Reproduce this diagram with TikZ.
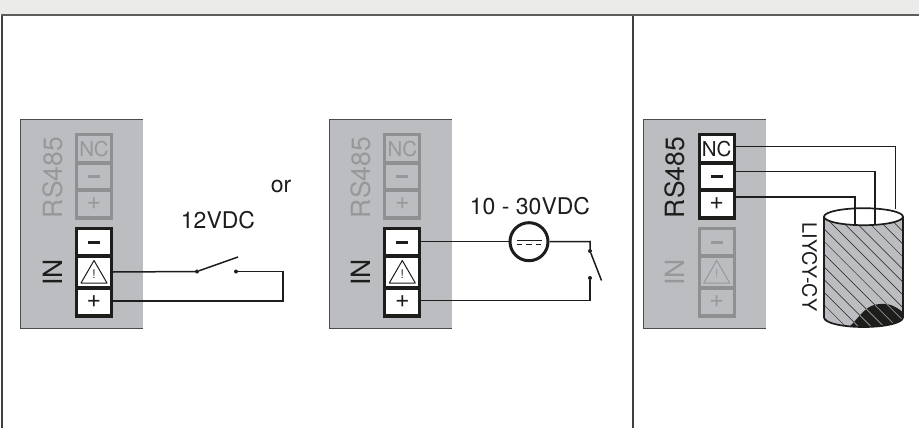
\documentclass[tikz,border=0pt]{standalone}
\usepackage{fontspec}
\usetikzlibrary{shapes.geometric}
\setmainfont{TeX Gyre Heros}
\definecolor{panelgray}{HTML}{BCBDC0}
\definecolor{dimline}{HTML}{8F9092}
\definecolor{dimtext}{HTML}{97989A}
\definecolor{inkc}{HTML}{1D1D1B}
\definecolor{bandc}{HTML}{EBECEA}
\definecolor{topline}{HTML}{5C5C5C}
\tikzset{
  cellon/.style={draw=inkc,line width=3.3pt,fill=white,text=inkc,minimum width=35pt,inner sep=0pt,font=\fontsize{20.5}{20.5}\selectfont},
  celloff/.style={draw=dimline,line width=3.3pt,fill=panelgray,text=dimtext,minimum width=35pt,inner sep=0pt,font=\fontsize{20.5}{20.5}\selectfont},
  sign/.style={font=\fontsize{25}{25}\selectfont},
  wire/.style={draw=inkc,line width=1.5pt},
  frameline/.style={draw=black!75,line width=1.3pt},
  panel/.style={fill=panelgray,draw=none},
  biglabel/.style={rotate=90,inner sep=0pt,font=\fontsize{26.5}{26.5}\selectfont},
  caption/.style={inner sep=0pt,text=inkc,font=\fontsize{23}{23}\selectfont},
  contact/.style={circle,fill=inkc,draw=none,inner sep=0pt,minimum size=4pt},
}
\newcommand{\termset}[7]{%
  % #1 prefix, #2 centre x, #3 style of RS485 cells, #4 style of IN cells,
  % #5 colour of the warning sign, #6 colour of the RS485 minus, #7 colour of the IN minus
  \node[#3,minimum height=28.5pt] (#1nc) at (#2,148.7) {NC};
  \node[#3,sign,minimum height=27pt] (#1rm) at (#2,176.5) {};
  \node[#3,sign,minimum height=28pt] (#1rp) at (#2,204) {+};
  \node[#4,sign,minimum height=27.5pt] (#1im) at (#2,242.2) {};
  \node[#4,minimum height=32pt] (#1iw) at (#2,272) {};
  \node[#4,sign,minimum height=28pt] (#1ip) at (#2,302) {+};
  \fill[#6] ([xshift=-6pt,yshift=-1.5pt]#1rm.center) rectangle ([xshift=6pt,yshift=1.5pt]#1rm.center);
  \fill[#7] ([xshift=-6pt,yshift=-1.5pt]#1im.center) rectangle ([xshift=6pt,yshift=1.5pt]#1im.center);
  \draw[line width=1pt,line join=round,draw=#5] ([xshift=-13pt,yshift=-11pt]#1iw.center) -- ([yshift=11.5pt]#1iw.center) -- ([xshift=13pt,yshift=-11pt]#1iw.center) -- cycle;
  \node[inner sep=0pt,text=#5,font=\fontsize{12}{12}\selectfont] (#1ex) at ([yshift=-2.5pt]#1iw.center) {!};
}
\begin{document}
\begin{tikzpicture}[x=1pt,y=-1pt]
\useasboundingbox (0,0) rectangle (919,428);
\fill[white] (0,0) rectangle (919,428);
\fill[bandc] (0,0) rectangle (919,14.5);
% panels
\node[panel,minimum width=122pt,minimum height=208pt,inner sep=0pt] (p1) at (82,224) {};
\node[panel,minimum width=122pt,minimum height=208pt,inner sep=0pt] (p2) at (391,224) {};
\node[panel,minimum width=122pt,minimum height=208pt,inner sep=0pt] (p3) at (705,224) {};
\foreach \p in {p1,p2,p3}{
  \draw[draw=black!70,line width=.8pt] (\p.north east) -- (\p.north west) -- (\p.south west) -- (\p.south east);
}
% frame
\draw[frameline] (2,15.5) -- (2,428);
\draw[frameline] (633,15.5) -- (633,428);
\draw[topline,line width=2pt] (1.3,15.5) -- (919,15.5);
% panel 1
\termset{a}{94}{celloff}{cellon}{inkc}{dimtext}{inkc}
\node[biglabel,text=dimtext] (ars) at (52.5,177.5) {RS485};
\node[biglabel,text=inkc] (ain) at (52.5,272.5) {IN};
\node[caption] (acap) at (218,220) {12VDC};
\node[caption] (aor) at (281,186) {or};
\node[contact] (as1) at (197,271.5) {};
\node[contact] (as2) at (236,271.5) {};
\coordinate (ablade) at (238,257);
\coordinate (ac1) at (283,271.5);
\coordinate (ac2) at (283,301);
\draw[wire] (aiw.east) -- (as1);
\draw[wire] (as1) -- (ablade);
\draw[wire] (as2) -- (ac1) -- (ac2) -- (ac2 -| aip.east);
% panel 2
\termset{b}{402.3}{celloff}{cellon}{inkc}{dimtext}{inkc}
\node[biglabel,text=dimtext] (brs) at (360.8,177.5) {RS485};
\node[biglabel,text=inkc] (bin) at (360.8,272.5) {IN};
\node[caption] (bcap) at (530,206) {10 - 30VDC};
\node[circle,draw=inkc,line width=3pt,fill=white,minimum size=38pt,inner sep=0pt] (bsrc) at (529,241.7) {};
\draw[inkc,line width=1.1pt] ([xshift=-12.5pt,yshift=1.5pt]bsrc.center) -- ([xshift=12.5pt,yshift=1.5pt]bsrc.center);
\draw[inkc,line width=1.1pt,dash pattern=on 5.5pt off 4pt] ([xshift=-12.5pt,yshift=-3pt]bsrc.center) -- ([xshift=12.5pt,yshift=-3pt]bsrc.center);
\node[contact] (bs1) at (590,251) {};
\node[contact] (bs2) at (590,278) {};
\coordinate (bblade) at (601.5,280.5);
\coordinate (bc1) at (590,241.5);
\coordinate (bc2) at (590,300.5);
\draw[wire] (bim.east |- bsrc) -- (bsrc);
\draw[wire] (bsrc) -- (bc1) -- (bs1);
\draw[wire] (bs1) -- (bblade);
\draw[wire] (bs2) -- (bc2) -- (bc2 -| bip.east);
% panel 3
\termset{c}{716.7}{cellon}{celloff}{dimtext}{inkc}{dimtext}
\node[biglabel,text=inkc] (crs) at (675.2,177.5) {RS485};
\node[biglabel,text=dimtext] (cin) at (675.2,272.5) {IN};
\node[inner sep=0pt,text=inkc,rotate=-90,font=\fontsize{19.8}{19.8}\selectfont] (ccab) at (809.5,267) {LIYCY-CY};
% cable
\begin{scope}
  \clip (824,216.7) -- (824,317.5) arc[start angle=180,end angle=0,x radius=39.5,y radius=9.5] -- (903,216.7) -- cycle;
  \fill[panelgray] (820,205) rectangle (907,330);
  \fill[inkc] (845,330) .. controls (858,322) and (862,305) .. (880,304) .. controls (890,303) and (897,307) .. (905,314) -- (905,330) -- cycle;
  \foreach \k in {-10,...,9}{
    \draw[inkc,line width=.5pt] (824,{216+12.7*\k}) -- (914,{306+12.7*\k});
  }
  \begin{scope}
    \clip (845,330) .. controls (858,322) and (862,305) .. (880,304) .. controls (890,303) and (897,307) .. (905,314) -- (905,330) -- cycle;
    \foreach \k in {-10,...,9}{
      \draw[dimline,line width=.8pt] (824,{216+12.7*\k}) -- (914,{306+12.7*\k});
    }
  \end{scope}
\end{scope}
\node[ellipse,fill=white,draw=none,minimum width=79pt,minimum height=17pt,inner sep=0pt] (cyl) at (863.5,216.7) {};
\draw[inkc,line width=1.7pt] (824,216.7) -- (824,317.5) arc[start angle=180,end angle=0,x radius=39.5,y radius=9.5] -- (903,216.7);
\draw[inkc,line width=1.7pt] (863.5,216.7) ellipse[x radius=39.5,y radius=8.5];
\coordinate (cn1) at (895.7,146.7);
\coordinate (cn2) at (895.7,209);
\coordinate (cm1) at (875,171.7);
\coordinate (cm2) at (875,225);
\coordinate (cp1) at (855,197);
\coordinate (cp2) at (855,225);
\draw[wire] (cnc.east |- cn1) -- (cn1) -- (cn2);
\draw[wire] (crm.east |- cm1) -- (cm1) -- (cm2);
\draw[wire] (crp.east |- cp1) -- (cp1) -- (cp2);
\end{tikzpicture}
\end{document}
